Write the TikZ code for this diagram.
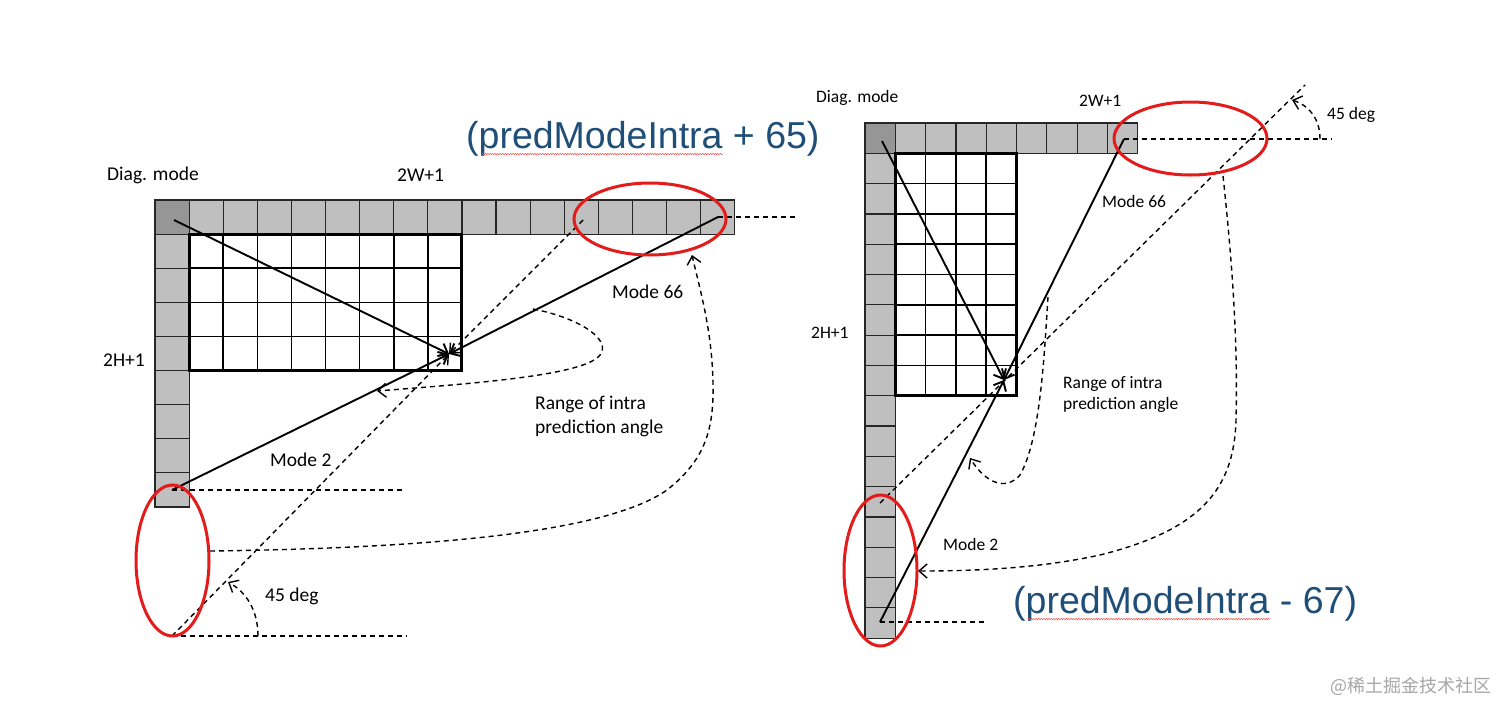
\documentclass[tikz,border=0pt]{standalone}
\usepackage{fontspec}
\setmainfont{Carlito}
\newfontfamily\bluefont{Liberation Sans}
\newfontfamily\cjkfont{Noto Sans CJK SC}
\usetikzlibrary{arrows.meta,decorations.pathmorphing}
\definecolor{cellgray}{HTML}{BFBFBF}
\definecolor{cornergray}{HTML}{969696}
\definecolor{titleblue}{HTML}{1F4E79}
\definecolor{ovalred}{HTML}{E31B1B}
\begin{document}
\begin{tikzpicture}[x=1pt,y=-1pt,
  cell/.style={fill=cellgray,draw=black!85,line width=1.2pt},
  cornercell/.style={fill=cornergray,draw=black!85,line width=1.2pt},
  gridline/.style={line width=1.6pt},
  border/.style={line width=3pt},
  ray/.style={line width=1.9pt,-{Straight Barb[length=8pt,width=14pt]}},
  dray/.style={line width=1.4pt,dash pattern=on 5pt off 4pt,-{Straight Barb[length=8pt,width=14pt]}},
  dline/.style={line width=1.4pt,dash pattern=on 5pt off 4pt},
  oval/.style={draw=ovalred,line width=3pt},
  lblL/.style={anchor=west,inner sep=0pt,font=\fontsize{19.5}{23}\selectfont},
  lblR/.style={anchor=west,inner sep=0pt,font=\fontsize{17.5}{21}\selectfont},
  titletext/.style={anchor=west,inner sep=0pt,text=titleblue,font=\bluefont\fontsize{37.5}{42}\selectfont},
  squiggle/.style={draw=red!70,line width=0.5pt,decorate,decoration={snake,amplitude=0.7pt,segment length=2.5pt}}
]
\fill[white] (0,0) rectangle (1512,715);
\useasboundingbox (0,0) rectangle (1512,715);

% ---------------- Left diagram ----------------
\foreach \i in {1,...,16} \draw[cell] ({155+\i*34.1},200) rectangle ++(34.1,34.1);
\foreach \j in {1,...,8} \draw[cell] (155,{200+\j*34.1}) rectangle ++(34.1,34.1);
\draw[cornercell] (155,200) rectangle ++(34.1,34.1);
\foreach \i in {1,...,7} \draw[gridline] ({189.1+\i*34.1},234.1) -- ++(0,136.4);
\foreach \j in {1,...,3} \draw[gridline] (189.1,{234.1+\j*34.1}) -- ++(272.8,0);
\draw[border] (189.1,234.1) rectangle ++(272.8,136.4);

\coordinate (Lc) at (449,354);
\coordinate (Ldiag) at (174,220);
\coordinate (L66) at (718,217);
\coordinate (L2) at (172,490);
\coordinate (L45top) at (583,220);
\coordinate (L45bot) at (172,636);
\coordinate (Lh1) at (797,217);
\coordinate (Lh2) at (402,490);
\coordinate (Lh3) at (407,636);
\coordinate (Larc0) at (258,636);
\coordinate (Larc1) at (228,582);
\coordinate (Lbig0) at (210,551);
\coordinate (Lbig1) at (692,255);
\coordinate (Lsm0) at (533,309);
\coordinate (Lsm1) at (377,391);

\draw[dline] (L66) -- (Lh1);
\draw[dline] (L2) -- (Lh2);
\draw[dline] (L45bot) -- (Lh3);
\draw[dray] (L45top) -- (Lc);
\draw[dray] (L45bot) -- (Lc);
\draw[ray] (Ldiag) -- (Lc);
\draw[ray] (L66) -- (Lc);
\draw[ray] (L2) -- (Lc);
\draw[dray] (Larc0) .. controls (258,610) and (246,592) .. (Larc1);
\draw[dray] (Lbig0) .. controls (450,548) and (610,530) .. (667,490)
  .. controls (705,460) and (714,430) .. (713,383)
  .. controls (712,330) and (700,290) .. (Lbig1);
\draw[dray] (Lsm0) .. controls (580,318) and (612,340) .. (600,355)
  .. controls (585,375) and (480,383) .. (Lsm1);

\draw[oval] (650,219) ellipse [x radius=76,y radius=36];
\draw[oval] (172.5,560.5) ellipse [x radius=36.5,y radius=75.5];

\node[lblL] (Ldiagtxt) at (107,175) {Diag. mode};
\node[lblL] (Lwtxt) at (397,175) {2W+1};
\node[lblL] (Lhtxt) at (103,360) {2H+1};
\node[lblL] (L66txt) at (612,292) {Mode 66};
\node[lblL] (Lrng1) at (535,404) {Range of intra};
\node[lblL] (Lrng2) at (535,428) {prediction angle};
\node[lblL] (L2txt) at (270,460) {Mode 2};
\node[lblL] (L45txt) at (265,596) {45 deg};
\node[titletext] (Ltitle) at (466,139) {(predModeIntra + 65)};
\draw[squiggle] (482,154) -- (723,154);

% ---------------- Right diagram ----------------
\foreach \i in {1,...,8} \draw[cell] ({865+\i*30.3},123) rectangle ++(30.3,30.3);
\foreach \j in {1,...,16} \draw[cell] (865,{123+\j*30.3}) rectangle ++(30.3,30.3);
\draw[cornercell] (865,123) rectangle ++(30.3,30.3);
\foreach \i in {1,...,3} \draw[gridline] ({895.3+\i*30.3},153.3) -- ++(0,242.4);
\foreach \j in {1,...,7} \draw[gridline] (895.3,{153.3+\j*30.3}) -- ++(121.2,0);
\draw[border] (895.3,153.3) rectangle ++(121.2,242.4);

\coordinate (Rc) at (1004,380);
\coordinate (Rdiag) at (882,141);
\coordinate (R66) at (1124,139);
\coordinate (R2) at (880,622);
\coordinate (R45bot) at (880,503);
\coordinate (R45top) at (1305,85);
\coordinate (Rh1) at (1332,139);
\coordinate (Rh2) at (987,622);
\coordinate (Rarc0) at (1320,139);
\coordinate (Rarc1) at (1292,100);
\coordinate (Rbig0) at (1223,176);
\coordinate (Rbig1) at (918,571);
\coordinate (Rsm0) at (1048,297);
\coordinate (Rsm1) at (970,458);

\draw[dline] (R66) -- (Rh1);
\draw[dline] (R2) -- (Rh2);
\draw[dline] (R45bot) -- (R45top);
\draw[ray] (Rdiag) -- (Rc);
\draw[ray] (R66) -- (Rc);
\draw[ray] (R2) -- (Rc);
\draw[dray] (Rarc0) .. controls (1320,118) and (1308,105) .. (Rarc1);
\draw[dray] (Rbig0) .. controls (1232,260) and (1238,340) .. (1236,420)
  .. controls (1234,490) and (1200,530) .. (1100,555)
  .. controls (1040,568) and (980,571) .. (Rbig1);
\draw[dray] (Rsm0) .. controls (1044,360) and (1040,440) .. (1020,475)
  .. controls (1005,492) and (985,482) .. (Rsm1);

\draw[oval] (1190.5,138.5) ellipse [x radius=76.5,y radius=36.5];
\draw[oval] (880.5,570.5) ellipse [x radius=36.5,y radius=75.5];

\node[lblR] (Rdiagtxt) at (816,98) {Diag. mode};
\node[lblR] (Rwtxt) at (1079,101) {2W+1};
\node[lblR] (R45txt) at (1327,115) {45 deg};
\node[lblR] (R66txt) at (1102,201) {Mode 66};
\node[lblR] (Rhtxt) at (811,333) {2H+1};
\node[lblR] (Rrng1) at (1063,384) {Range of intra};
\node[lblR] (Rrng2) at (1063,405) {prediction angle};
\node[lblR] (R2txt) at (943,544) {Mode 2};
\node[titletext] (Rtitle) at (1013,604) {(predModeIntra - 67)};
\draw[squiggle] (1028,619) -- (1270,619);

\node[anchor=west,inner sep=0pt,text=black!35,font=\cjkfont\fontsize{18}{20}\selectfont] (wm) at (1330,686) {@稀土掘金技术社区};
\end{tikzpicture}
\end{document}
